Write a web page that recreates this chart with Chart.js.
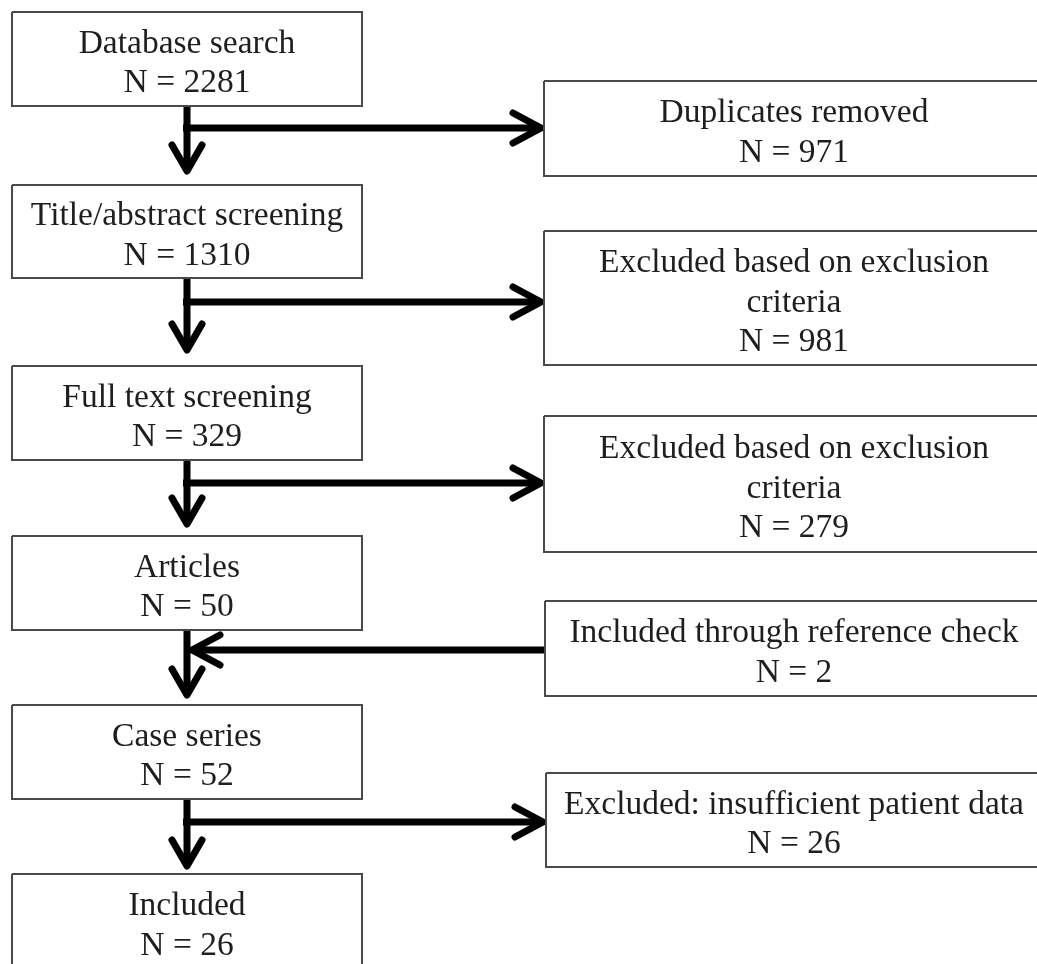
<!DOCTYPE html>
<html>
<head>
<meta charset="utf-8">
<script src="https://cdn.jsdelivr.net/npm/chart.js@4"></script>
<style>
  html, body { margin: 0; padding: 0; background: #ffffff; }
  #wrap { width: 1037px; height: 964px; }
</style>
</head>
<body>
<div id="wrap"><canvas id="c" width="1037" height="964"></canvas></div>
<script>
// ---- content (data) ----
const stageLabels = ["Database search", "Title/abstract screening", "Full text screening", "Articles", "Case series", "Included"];
const stageCounts = [2281, 1310, 329, 50, 52, 26];
const sideLabels = [["Duplicates removed"], ["Excluded based on exclusion", "criteria"], ["Excluded based on exclusion", "criteria"], ["Included through reference check"], ["Excluded: insufficient patient data"]];
const sideCounts = [971, 981, 279, 2, 26];
const sideDirection = ["out", "out", "out", "in", "out"];

// ---- layout (positions, in diagram units) ----
const mainLeft = 12, mainRight = 362, mainCenter = 187;
const mainTops = [12, 185, 366, 536, 705, 874];
const mainBottoms = [106, 278, 460, 630, 799, 969];
const sideLefts = [544, 544, 544, 545, 546];
const sideRight = 1048;
const sideTops = [81, 231, 416, 601, 773];
const sideBottoms = [176, 365, 552, 696, 867];
const branchYs = [128, 302, 483, 650, 822];
const arrowTips = [174, 353, 527, 698, 869];

const boxColor = '#4a4a4a';
const arrowColor = '#000000';
const textColor = '#1e1e1e';
const fontSpec = '33.5px "Liberation Serif", "Times New Roman", serif';

function rect(l, t, r, b) {
  return [{x:l,y:t},{x:r,y:t},{x:r,y:b},{x:l,y:b},{x:l,y:t}];
}
function lineDs(data, color, width, cap, join) {
  return { type: 'line', data, borderColor: color, borderWidth: width, pointRadius: 0, showLine: true,
           fill: false, tension: 0, clip: false, borderCapStyle: cap || 'butt', borderJoinStyle: join || 'miter' };
}

const datasets = [];
stageLabels.forEach((_, i) => {
  datasets.push(lineDs(rect(mainLeft, mainTops[i], mainRight, mainBottoms[i]), boxColor, 2));
});
sideLabels.forEach((_, i) => {
  datasets.push(lineDs(rect(sideLefts[i], sideTops[i], sideRight, sideBottoms[i]), boxColor, 2));
});
// vertical arrows
for (let i = 0; i < stageLabels.length - 1; i++) {
  const tip = arrowTips[i];
  datasets.push(lineDs([{x:mainCenter,y:mainBottoms[i]},{x:mainCenter,y:tip-3}], arrowColor, 7, 'butt'));
  datasets.push(lineDs([{x:mainCenter-15,y:tip-29},{x:mainCenter,y:tip-3},{x:mainCenter+15,y:tip-29}], arrowColor, 7, 'round', 'round'));
}
// horizontal arrows
sideLabels.forEach((_, i) => {
  const y = branchYs[i];
  if (sideDirection[i] === 'out') {
    const tip = sideLefts[i] - 3;
    datasets.push(lineDs([{x:mainCenter-4,y},{x:tip,y}], arrowColor, 7, 'butt'));
    datasets.push(lineDs([{x:tip-28,y:y-15},{x:tip,y},{x:tip-28,y:y+15}], arrowColor, 7, 'round', 'round'));
  } else {
    const tip = mainCenter + 5;
    datasets.push(lineDs([{x:sideLefts[i],y},{x:tip,y}], arrowColor, 7, 'butt'));
    datasets.push(lineDs([{x:tip+28,y:y-15},{x:tip,y},{x:tip+28,y:y+15}], arrowColor, 7, 'round', 'round'));
  }
});

const textPlugin = {
  id: 'boxText',
  afterDatasetsDraw(chart) {
    const ctx = chart.ctx, xs = chart.scales.x, ys = chart.scales.y;
    ctx.save();
    ctx.font = fontSpec;
    ctx.fillStyle = textColor;
    ctx.textAlign = 'center';
    ctx.textBaseline = 'alphabetic';
    function drawLines(lines, cx, top, bottom) {
      const mid = (top + bottom) / 2;
      const n = lines.length;
      lines.forEach((s, k) => {
        const y = mid + 13.5 + (k - (n - 1) / 2) * 39.5;
        ctx.fillText(s, xs.getPixelForValue(cx), ys.getPixelForValue(y));
      });
    }
    stageLabels.forEach((lab, i) => {
      drawLines([lab, 'N = ' + stageCounts[i]], mainCenter, mainTops[i], mainBottoms[i]);
    });
    sideLabels.forEach((labs, i) => {
      drawLines(labs.concat(['N = ' + sideCounts[i]]), 794, sideTops[i], sideBottoms[i]);
    });
    ctx.restore();
  }
};

new Chart(document.getElementById('c'), {
  type: 'scatter',
  data: { datasets },
  options: {
    responsive: false,
    animation: false,
    events: [],
    layout: { padding: 0 },
    scales: {
      x: { type: 'linear', min: 0, max: 1037, display: false },
      y: { type: 'linear', min: 0, max: 964, reverse: true, display: false }
    },
    plugins: { legend: { display: false }, tooltip: { enabled: false }, title: { display: false } }
  },
  plugins: [textPlugin]
});
</script>
</body>
</html>
